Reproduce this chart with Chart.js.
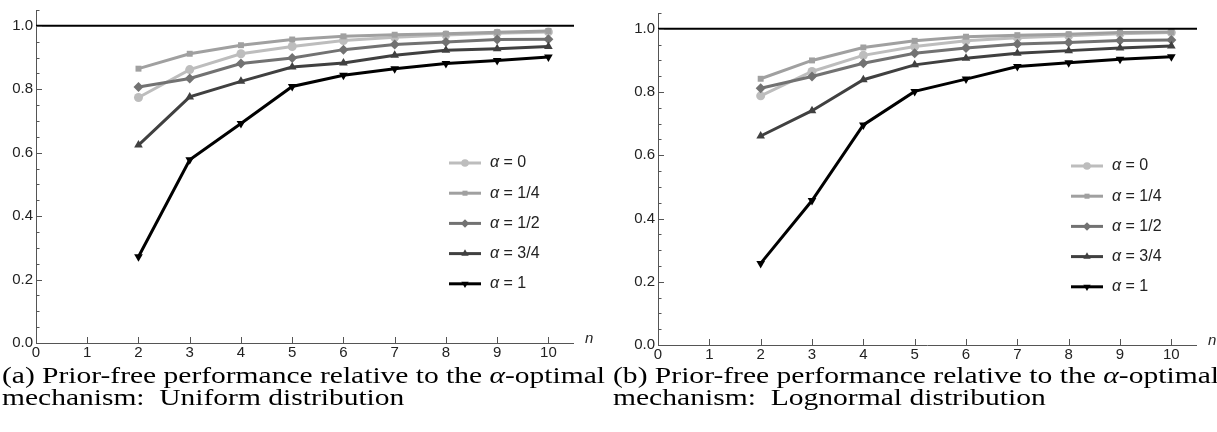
<!DOCTYPE html>
<html><head><meta charset="utf-8">
<script src="https://cdn.jsdelivr.net/npm/chart.js@4.4.1/dist/chart.umd.min.js"></script>
<style>
html,body{margin:0;padding:0;background:#fff;width:1217px;height:432px;overflow:hidden;position:relative}
.c{position:absolute;top:0}
.cap{position:absolute;font-family:'Liberation Serif','Times New Roman',serif;font-size:24px;line-height:22px;white-space:nowrap;color:#000;transform-origin:0 0}
</style></head><body>
<div class="c" style="left:0;width:610px;height:365px"><canvas id="left" width="610" height="365"></canvas></div>
<div class="c" style="left:610px;width:607px;height:365px"><canvas id="right" width="607" height="365"></canvas></div>
<div class="cap" id="capA1" style="left:2px;top:364px">(a) Prior-free performance relative to the <i>α</i>-optimal</div>
<div class="cap" id="capA2" style="left:2px;top:386px">mechanism:&nbsp; Uniform distribution</div>
<div class="cap" id="capB1" style="left:613px;top:364px">(b) Prior-free performance relative to the <i>α</i>-optimal</div>
<div class="cap" id="capB2" style="left:613px;top:386px">mechanism:&nbsp; Lognormal distribution</div>
<script>
// ---------- data ----------
const nValues = [2, 3, 4, 5, 6, 7, 8, 9, 10];
const alphaLabels = ['0', '1/4', '1/2', '3/4', '1'];
const xTicks = [0, 1, 2, 3, 4, 5, 6, 7, 8, 9, 10];
const yTicks = [0.0, 0.2, 0.4, 0.6, 0.8, 1.0];
const referenceLevel = 1.0;

const uniformA0  = [0.774, 0.862, 0.912, 0.935, 0.954, 0.964, 0.971, 0.977, 0.981];
const uniformA14 = [0.865, 0.912, 0.939, 0.957, 0.967, 0.972, 0.975, 0.980, 0.984];
const uniformA12 = [0.807, 0.834, 0.881, 0.899, 0.925, 0.941, 0.949, 0.957, 0.958];
const uniformA34 = [0.624, 0.776, 0.825, 0.870, 0.883, 0.907, 0.923, 0.928, 0.935];
const uniformA1  = [0.272, 0.578, 0.692, 0.809, 0.844, 0.865, 0.881, 0.891, 0.902];

const lognormA0  = [0.788, 0.865, 0.916, 0.944, 0.962, 0.972, 0.978, 0.984, 0.988];
const lognormA14 = [0.842, 0.900, 0.941, 0.962, 0.975, 0.980, 0.983, 0.988, 0.990];
const lognormA12 = [0.812, 0.849, 0.891, 0.923, 0.939, 0.952, 0.957, 0.963, 0.965];
const lognormA34 = [0.661, 0.741, 0.839, 0.886, 0.907, 0.923, 0.931, 0.939, 0.946];
const lognormA1  = [0.258, 0.457, 0.696, 0.802, 0.841, 0.881, 0.893, 0.904, 0.912];

// ---------- styles ----------
const seriesColors = ['#bdbdbd', '#a0a0a0', '#727272', '#404040', '#000000'];
const seriesMarkers = [
  {style: 'circle', radius: 4.5, rotation: 0},
  {style: 'rect', radius: 4.2, rotation: 0},
  {style: 'rectRot', radius: 5, rotation: 0},
  {style: 'triangle', radius: 5, rotation: 0},
  {style: 'triangle', radius: 5, rotation: 180}
];
const axisColor = '#555';
const textColor = '#222';
const tickFont = {family: "'Liberation Sans', Arial, sans-serif", size: 15};

function buildDatasets(seriesList) {
  return seriesList.map((vals, i) => ({
    label: 'α = ' + alphaLabels[i],
    data: vals.map((v, k) => ({x: nValues[k], y: v})),
    borderColor: seriesColors[i],
    backgroundColor: seriesColors[i],
    pointBackgroundColor: seriesColors[i],
    pointBorderColor: seriesColors[i],
    borderWidth: 3,
    pointStyle: seriesMarkers[i].style,
    pointRadius: seriesMarkers[i].radius,
    pointRotation: seriesMarkers[i].rotation,
    pointBorderWidth: 0,
    tension: 0,
    order: seriesList.length - 1 - i
  }));
}

const decorPlugin = {
  id: 'decor',
  afterDatasetsDraw(chart, args, opts) {
    const ctx = chart.ctx, xs = chart.scales.x, ys = chart.scales.y, ca = chart.chartArea;
    ctx.save();
    // reference line
    const yr = ys.getPixelForValue(referenceLevel);
    ctx.strokeStyle = '#000'; ctx.lineWidth = 2;
    ctx.beginPath(); ctx.moveTo(ca.left, yr); ctx.lineTo(ca.right + 1, yr); ctx.stroke();
    // inward ticks
    ctx.strokeStyle = axisColor; ctx.lineWidth = 1;
    for (let k = 0; k <= 21; k++) {
      const v = k * 0.05;
      const py = Math.round(ys.getPixelForValue(v)) + 0.5;
      const len = (k % 4 === 0) ? 6 : 3.5;
      ctx.beginPath(); ctx.moveTo(ca.left, py); ctx.lineTo(ca.left + len, py); ctx.stroke();
    }
    xTicks.forEach(v => {
      const px = Math.round(xs.getPixelForValue(v)) + 0.5;
      ctx.beginPath(); ctx.moveTo(px, ca.bottom); ctx.lineTo(px, ca.bottom - 6); ctx.stroke();
    });
    // axis label n
    ctx.fillStyle = textColor;
    ctx.font = "italic 15px 'Liberation Sans', Arial, sans-serif";
    ctx.textBaseline = 'middle'; ctx.textAlign = 'left';
    ctx.fillText('n', ca.right + 12, ca.bottom - 4);
    // legend
    const lx = ca.left + opts.dx, ly0 = ca.top + opts.dy;
    chart.data.datasets.forEach((ds, i) => {
      const y = ly0 + i * opts.step;
      ctx.strokeStyle = ds.borderColor; ctx.lineWidth = 3;
      ctx.beginPath(); ctx.moveTo(lx, y); ctx.lineTo(lx + 32, y); ctx.stroke();
      ctx.fillStyle = ds.pointBackgroundColor; ctx.strokeStyle = ds.pointBorderColor;
      Chart.helpers.drawPoint(ctx, {pointStyle: ds.pointStyle, radius: ds.pointRadius * 0.85, rotation: ds.pointRotation, borderWidth: 0}, lx + 16, y);
      ctx.fillStyle = textColor;
      ctx.font = "italic 16px 'Liberation Sans', Arial, sans-serif";
      ctx.fillText('α', lx + 41, y);
      const w = ctx.measureText('α').width;
      ctx.font = "16px 'Liberation Sans', Arial, sans-serif";
      ctx.fillText(' = ' + alphaLabels[i], lx + 41 + w, y);
    });
    ctx.restore();
  }
};

function makeChart(id, seriesList, geom) {
  return new Chart(document.getElementById(id), {
    type: 'line',
    data: {datasets: buildDatasets(seriesList)},
    plugins: [decorPlugin],
    options: {
      responsive: false, animation: false, devicePixelRatio: 1,
      layout: {padding: {left: 0, right: geom.padRight, top: geom.padTop, bottom: 0}},
      plugins: {legend: {display: false}, tooltip: {enabled: false},
        decor: {dx: 413, dy: 153, step: 30.2}},
      scales: {
        x: {
          type: 'linear', position: 'bottom', min: 0, max: 10.48,
          afterBuildTicks: s => { s.ticks = xTicks.map(v => ({value: v})); },
          afterFit: s => { s.height = geom.xH; s.paddingLeft = 0; s.paddingRight = 0; },
          grid: {display: false, drawTicks: false},
          border: {display: true, color: axisColor, width: 1},
          ticks: {padding: 1, color: textColor, font: tickFont, maxRotation: 0, autoSkip: false, callback: v => String(v)}
        },
        y: {
          type: 'linear', min: 0, max: 1.05,
          afterBuildTicks: s => { s.ticks = yTicks.map(v => ({value: v})); },
          afterFit: s => { s.width = geom.yW; s.paddingTop = 0; s.paddingBottom = 0; },
          grid: {display: false, drawTicks: false},
          border: {display: true, color: axisColor, width: 1},
          ticks: {padding: 3, color: textColor, font: tickFont, autoSkip: false, callback: v => Number(v).toFixed(1)}
        }
      }
    }
  });
}

makeChart('left', [uniformA0, uniformA14, uniformA12, uniformA34, uniformA1],
  {yW: 36, xH: 22, padRight: 37, padTop: 10});
makeChart('right', [lognormA0, lognormA14, lognormA12, lognormA34, lognormA1],
  {yW: 48, xH: 20, padRight: 21, padTop: 13});

function fitCaption(id, target) {
  const el = document.getElementById(id);
  const w = el.getBoundingClientRect().width;
  el.style.transform = 'scaleX(' + (target / w) + ')';
}
fitCaption('capA1', 603);
fitCaption('capB1', 606);
document.getElementById('capA2').style.transform = document.getElementById('capA1').style.transform;
document.getElementById('capB2').style.transform = document.getElementById('capB1').style.transform;
</script>
</body></html>
